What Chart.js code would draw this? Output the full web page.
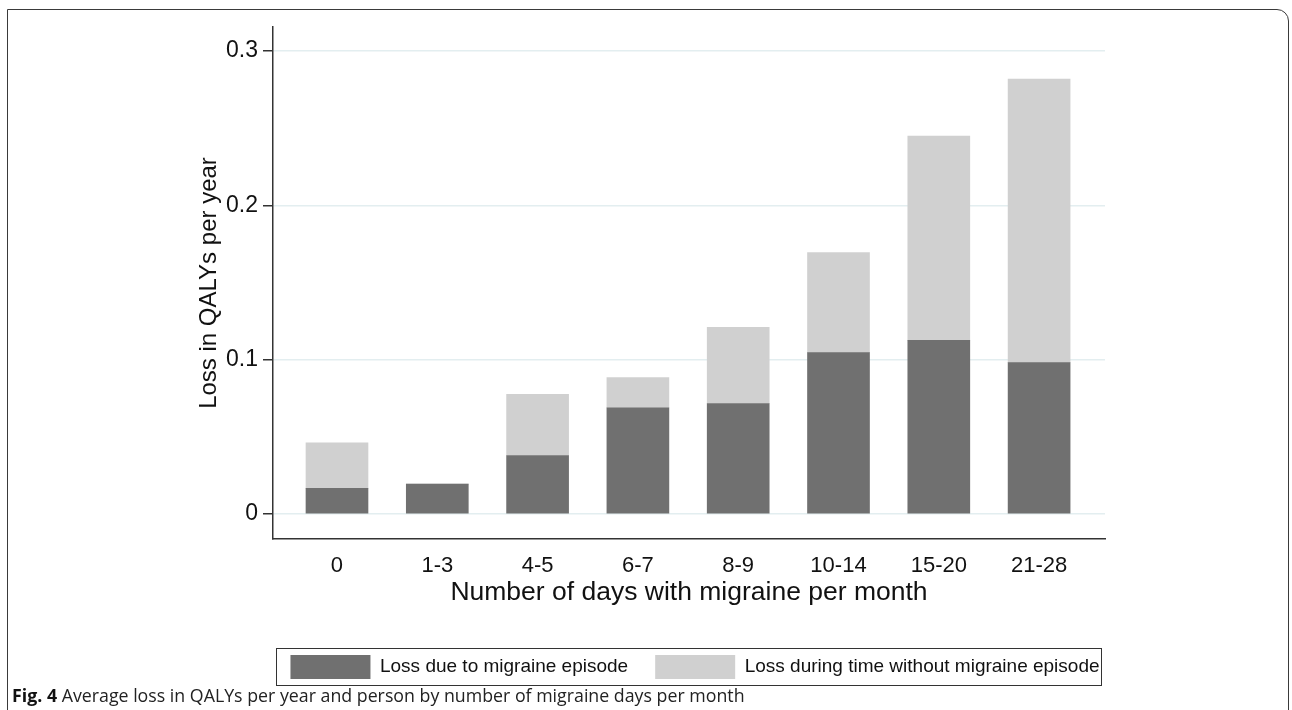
<!DOCTYPE html>
<html><head><meta charset="utf-8">
<script src="https://cdn.jsdelivr.net/npm/chart.js@4"></script>
<style>
html,body{margin:0;padding:0;background:#fff;width:1292px;height:710px;overflow:hidden;}
#frame{position:absolute;left:7px;top:9px;width:1282px;height:760px;border:1.5px solid #3a3a3a;border-top-right-radius:12px;box-sizing:border-box;}
#wrap{position:absolute;left:0;top:0;width:1292px;height:710px;}
#caption{position:absolute;left:12px;top:683px;font-family:"Liberation Sans Narrow","Open Sans",sans-serif;font-size:17px;color:#222;white-space:nowrap;}
#caption b{color:#111;}
</style></head>
<body>
<div id="frame"></div>
<div id="wrap"><canvas id="c" width="1292" height="710"></canvas></div>
<div id="caption"><b>Fig. 4</b> Average loss in QALYs per year and person by number of migraine days per month</div>
<script>
const categories = ['0','1-3','4-5','6-7','8-9','10-14','15-20','21-28'];
const lossDuringEpisode = [0.0166,0.0194,0.0379,0.0687,0.0716,0.1045,0.1125,0.0981];
const lossWithoutEpisode = [0.0295,0,0.0397,0.0197,0.0494,0.0649,0.1323,0.1837];
const yTicks = [0,0.1,0.2,0.3];
const yTickLabels = ['0','0.1','0.2','0.3'];
const seriesNames = ['Loss due to migraine episode','Loss during time without migraine episode'];
const seriesColors = ['#707070','#d0d0d0'];

// caption width fit
(function(){
  const cap = document.getElementById('caption');
  const w = cap.getBoundingClientRect().width;
  const target = 733;
  cap.style.fontSize = (17*target/w).toFixed(2)+'px';
})();

const FONT = "'Liberation Sans', Arial, sans-serif";

const legendBox = {
  id:'legendBox',
  afterLayout(chart){
    const l = chart.legend; const dx = 47;
    l.left += dx; l.right += dx;
  },
  afterDraw(chart){
    const hb = chart.legend.legendHitBoxes;
    if(!hb || !hb.length) return;
    const ctx = chart.ctx;
    const left = hb[0].left - 14;
    const last = hb[hb.length-1];
    const right = last.left + last.width + 2;
    const top = hb[0].top - 7;
    const h = hb[0].height + 13;
    ctx.save();
    ctx.strokeStyle = '#333';
    ctx.lineWidth = 1;
    ctx.strokeRect(Math.round(left)+0.5, Math.round(top)+0.5, Math.round(right-left), Math.round(h));
    ctx.restore();
  }
};

new Chart(document.getElementById('c'), {
  type:'bar',
  data:{
    datasets:[
      {label:seriesNames[0], data:categories.map((c,i)=>({x:i,y:lossDuringEpisode[i]})), backgroundColor:seriesColors[0], borderWidth:0, barThickness:62},
      {label:seriesNames[1], data:categories.map((c,i)=>({x:i,y:lossWithoutEpisode[i]})), backgroundColor:seriesColors[1], borderWidth:0, barThickness:62}
    ]
  },
  options:{
    responsive:false, animation:false, devicePixelRatio:1,
    layout:{padding:{top:27,left:191,right:187,bottom:21}},
    plugins:{
      tooltip:{enabled:false},
      legend:{position:'bottom', labels:{boxWidth:80, boxHeight:24, padding:27, color:'#111', font:{family:FONT,size:19}}}
    },
    scales:{
      x:{type:'linear', offset:false, min:-0.638, max:7.657, stacked:true,
        afterBuildTicks:s=>{ s.ticks = categories.map((c,i)=>({value:i})); },
        afterFit:s=>{ s.height = 89; },
        grid:{display:false, drawTicks:false, offset:false},
        border:{display:true, color:'#333', width:1.5},
        ticks:{padding:14, autoSkip:false, maxRotation:0, color:'#111', font:{family:FONT,size:22},
          callback:(v,i)=>categories[i]},
        title:{display:true, text:'Number of days with migraine per month', color:'#111', font:{family:FONT,size:26.5}, padding:{top:0,bottom:19}}
      },
      y:{min:-0.0162, max:0.3155, stacked:true,
        afterBuildTicks:s=>{ s.ticks = yTicks.map(v=>({value:v})); },
        afterFit:s=>{ s.width = 82; },
        grid:{color:'#e3eef0', lineWidth:1.5, drawTicks:true, tickLength:10, tickColor:'#333', tickWidth:1.5},
        border:{display:true, color:'#333', width:1.5},
        ticks:{padding:5, color:'#111', font:{family:FONT,size:23}, callback:(v,i)=>yTickLabels[i]},
        title:{display:true, text:'Loss in QALYs per year', color:'#111', font:{family:FONT,size:24}, padding:{top:4,bottom:0}}
      }
    }
  },
  plugins:[legendBox]
});
</script>
</body></html>
